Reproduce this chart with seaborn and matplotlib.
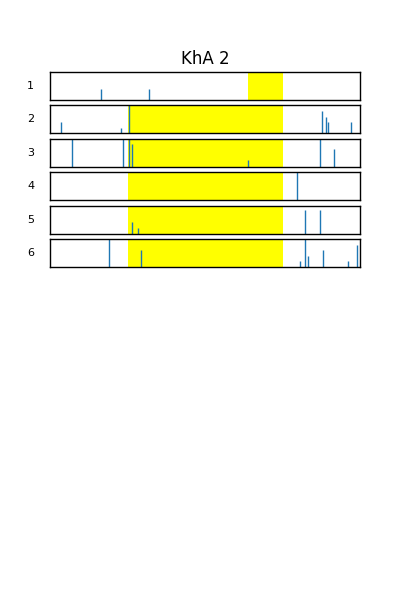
import matplotlib
matplotlib.use("Agg")
import matplotlib.pyplot as plt
import seaborn as sns

sns.set_style("white")
plt.rcParams['font.family'] = ['DejaVu Sans']
plt.rcParams['text.color'] = 'black'
plt.rcParams['axes.labelcolor'] = 'black'

# hours of the day for each row, with bar heights (fraction of max)
rows = ['1', '2', '3', '4', '5', '6']
light_start = [15.33, 6.0, 6.0, 6.0, 6.0, 6.0]
light_end = [18.05, 18.05, 18.05, 18.05, 18.05, 18.05]

hours_1 = [3.95, 7.66]
heights_1 = [0.39, 0.39]
hours_2 = [0.85, 5.50, 6.12, 21.06, 21.37, 21.52, 23.30]
heights_2 = [0.40, 0.19, 1.0, 0.80, 0.58, 0.40, 0.40]
hours_3 = [1.70, 5.65, 6.12, 6.35, 15.33, 20.90, 21.99]
heights_3 = [1.0, 1.0, 1.0, 0.83, 0.23, 1.0, 0.62]
hours_4 = [19.12]
heights_4 = [1.0]
hours_5 = [6.35, 6.81, 19.74, 20.90]
heights_5 = [0.43, 0.21, 0.83, 0.83]
hours_6 = [4.57, 7.05, 19.35, 19.74, 19.97, 21.14, 23.07, 23.77]
heights_6 = [1.0, 0.61, 0.21, 1.0, 0.39, 0.61, 0.21, 0.79]

all_hours = [hours_1, hours_2, hours_3, hours_4, hours_5, hours_6]
all_heights = [heights_1, heights_2, heights_3, heights_4, heights_5, heights_6]

blue = sns.color_palette()[0]

fig, axes = plt.subplots(6, 1, figsize=(4, 6), dpi=100,
                         gridspec_kw=dict(top=0.88, bottom=0.555, hspace=0.2,
                                          left=0.125, right=0.9))

for i, ax in enumerate(axes):
    ax.axvspan(light_start[i], light_end[i], color='yellow', lw=0)
    ax.vlines(all_hours[i], 0, all_heights[i], color=blue, lw=1)
    ax.set_xlim(0, 24)
    ax.set_ylim(0, 1)
    ax.set_xticks([])
    ax.set_yticks([])
    ax.set_ylabel(rows[i], rotation=0, fontsize=8, labelpad=14, va='center')
    for s in ax.spines.values():
        s.set_color('black')
        s.set_linewidth(1)

axes[0].set_title('KhA 2', fontsize=12)

fig.savefig('out.png')
